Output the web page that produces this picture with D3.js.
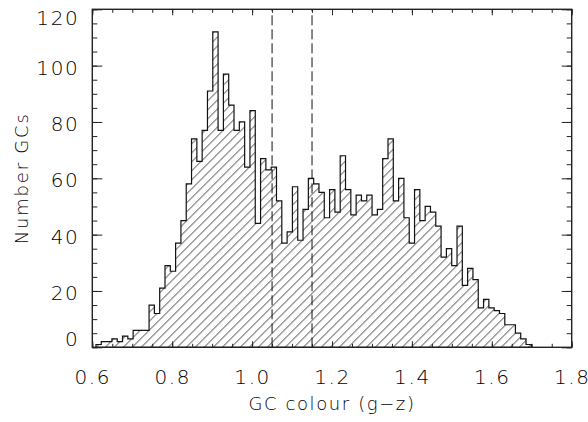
<!DOCTYPE html>
<html>
<head>
  <script src="https://d3js.org/d3.v7.min.js"></script>
  <style>
    body { margin: 0; background: #fff; }
    text { font-family: "DejaVu Sans", sans-serif; fill: #000; font-weight: 300; }
  </style>
</head>
<body>
<svg id="chart" width="588" height="422"></svg>
<script>
// GC colour histogram, equal-width bins
const binStart = 0.6092;
const binWidth = 0.01329;
const counts = [
  1, 2, 2, 3, 2, 4, 3, 6, 6, 6,
  15, 12, 21, 29, 27, 37, 45, 58, 74, 66,
  77, 91, 112, 77, 97, 86, 77, 80, 64, 84,
  44, 67, 63, 64, 52, 37, 41, 57, 38, 49,
  60, 58, 55, 46, 56, 48, 68, 56, 47, 54,
  52, 54, 47, 49, 67, 74, 52, 60, 46, 37,
  56, 45, 50, 48, 43, 32, 35, 29, 43, 22,
  28, 24, 14, 17, 14, 13, 12, 8, 8, 5,
  3, 1
];
const xTicks = [0.6, 0.8, 1.0, 1.2, 1.4, 1.6, 1.8];
const yTicks = [0, 20, 40, 60, 80, 100, 120];
const dividers = [1.05, 1.15];
const xLabel = "GC colour (g\u2212z)";
const yLabel = "Number GCs";

const svg = d3.select("#chart");
const margin = { left: 92.3, right: 16.3, top: 9.3, bottom: 74.7 };
const width = +svg.attr("width") - margin.left - margin.right;
const height = +svg.attr("height") - margin.top - margin.bottom;

const x = d3.scaleLinear().domain([0.6, 1.8]).range([0, width]);
const y = d3.scaleLinear().domain([0, 120]).range([height, 0]);

const g = svg.append("g")
  .attr("transform", `translate(${margin.left},${margin.top})`);

// hatch pattern
svg.append("defs").append("pattern")
  .attr("id", "hatch")
  .attr("patternUnits", "userSpaceOnUse")
  .attr("width", 9)
  .attr("height", 9)
  .append("path")
  .attr("d", "M-2,2 L2,-2 M0,9 L9,0 M7,11 L11,7")
  .attr("stroke", "#222")
  .attr("stroke-width", 0.9);

const steps = counts.map((c, i) => ({ x0: binStart + i * binWidth, c: c }));
steps.push({ x0: binStart + counts.length * binWidth, c: counts[counts.length - 1] });

const area = d3.area()
  .curve(d3.curveStepAfter)
  .x(d => x(d.x0))
  .y0(y(0))
  .y1(d => y(d.c));

g.append("path")
  .datum(steps)
  .attr("d", area)
  .attr("fill", "url(#hatch)")
  .attr("stroke", "#111")
  .attr("stroke-width", 1.2);

// dashed dividers
g.selectAll(".divider")
  .data(dividers)
  .enter()
  .append("line")
  .attr("class", "divider")
  .attr("x1", d => x(d)).attr("x2", d => x(d))
  .attr("y1", y(0)).attr("y2", y(120))
  .attr("stroke", "#111")
  .attr("stroke-width", 1)
  .attr("stroke-dasharray", "10,4");

// ticks on all four sides, pointing inwards
const minorX = d3.range(0.6, 1.8001, 0.05);
const minorY = d3.range(0, 120.001, 5);

function styleAxis(sel) {
  sel.select(".domain").remove();
  sel.selectAll("line").attr("stroke", "#222").attr("stroke-width", 1);
}

g.append("g").attr("transform", `translate(0,${height})`)
  .call(d3.axisBottom(x).tickValues(minorX).tickSize(-3.5).tickFormat(""))
  .call(styleAxis);
g.append("g")
  .call(d3.axisTop(x).tickValues(minorX).tickSize(-3.5).tickFormat(""))
  .call(styleAxis);
g.append("g")
  .call(d3.axisLeft(y).tickValues(minorY).tickSize(-5).tickFormat(""))
  .call(styleAxis);
g.append("g").attr("transform", `translate(${width},0)`)
  .call(d3.axisRight(y).tickValues(minorY).tickSize(-5).tickFormat(""))
  .call(styleAxis);

g.append("g").attr("transform", `translate(0,${height})`)
  .call(d3.axisBottom(x).tickValues(xTicks).tickSize(-6).tickPadding(23).tickFormat(d3.format(".1f")))
  .call(styleAxis);
g.append("g")
  .call(d3.axisTop(x).tickValues(xTicks).tickSize(-6).tickFormat(""))
  .call(styleAxis);
const yAxis = g.append("g")
  .call(d3.axisLeft(y).tickValues(yTicks).tickSize(-10).tickPadding(13).tickFormat(d3.format("d")))
  .call(styleAxis);
g.append("g").attr("transform", `translate(${width},0)`)
  .call(d3.axisRight(y).tickValues(yTicks).tickSize(-10).tickFormat(""))
  .call(styleAxis);

g.selectAll(".tick text")
  .attr("fill", "#000")
  .style("font-family", "DejaVu Sans, sans-serif")
  .style("font-weight", "300")
  .style("font-size", "20px")
  .style("letter-spacing", "1.6px");

// keep end labels inside the frame
yAxis.selectAll(".tick").each(function(d) {
  const ty = y(d);
  const shift = Math.min(Math.max(ty + 2, 9), height - 8) - ty;
  d3.select(this).select("text").attr("y", shift);
});

// frame
g.append("rect")
  .attr("width", width)
  .attr("height", height)
  .attr("fill", "none")
  .attr("stroke", "#222")
  .attr("stroke-width", 1.4);

svg.append("text")
  .attr("x", margin.left + width / 2)
  .attr("y", 404)
  .attr("dy", "0.35em")
  .attr("text-anchor", "middle")
  .style("font-size", "18px")
  .style("letter-spacing", "1.6px")
  .text(xLabel);

svg.append("text")
  .attr("transform", `translate(22,${margin.top + height / 2}) rotate(-90)`)
  .attr("dy", "0.35em")
  .attr("text-anchor", "middle")
  .style("font-size", "18px")
  .style("letter-spacing", "1.8px")
  .text(yLabel);
</script>
</body>
</html>
